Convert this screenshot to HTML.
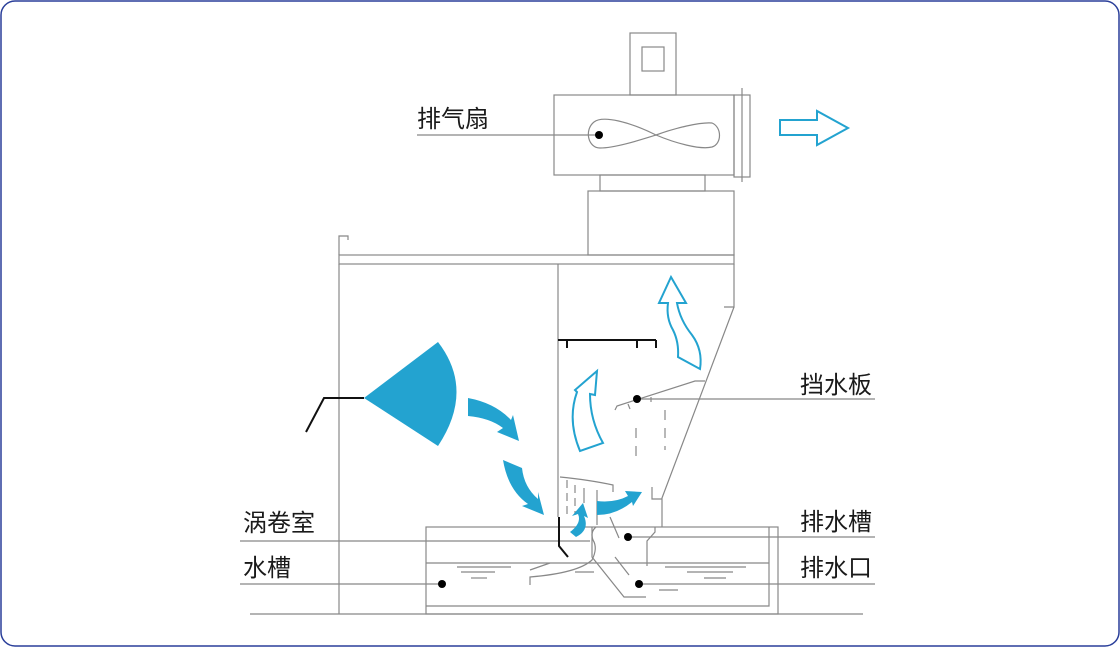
<!DOCTYPE html>
<html><head><meta charset="utf-8"><style>
html,body{margin:0;padding:0;background:#fff;}
svg{display:block;}
text{font-family:"Liberation Sans","Noto Sans CJK SC",sans-serif;font-size:24px;fill:#1a1a1a;}
</style></head><body>
<svg width="1120" height="647" viewBox="0 0 1120 647" xmlns="http://www.w3.org/2000/svg">
<rect x="1" y="1" width="1118" height="645" rx="14" ry="14" fill="#fff" stroke="#2a3f9a" stroke-width="1.5"/>
<g fill="none" stroke="#888" stroke-width="1.2">
<rect x="630" y="33" width="46" height="62"/>
<rect x="642" y="47" width="22" height="24"/>
<rect x="554" y="95" width="180" height="80"/>
<rect x="734" y="95" width="16" height="82"/>
<line x1="742" y1="88" x2="742" y2="182"/>
<path d="M656,135 C630,122 603,115 594,122 C584,130 588,148 600,148 C615,148 640,140 656,135 C675,128 700,122 712,123 C722,127 722,144 712,147 C700,150 675,143 656,135 Z"/>
<line x1="417" y1="135" x2="599" y2="135"/>
<rect x="600" y="175" width="105" height="16"/>
<rect x="588" y="191" width="146" height="64"/>
<rect x="339" y="255" width="395" height="9"/>
<path d="M339,255 V236 H348 V240"/>
<line x1="339" y1="264" x2="339" y2="614"/>
<line x1="558" y1="264" x2="558" y2="517"/>
<path d="M734,264 V307 H724"/>
<path d="M734,307 L662,498 V527"/>
<path d="M652,487 V499 H662"/>
<path d="M615,410 L617,406 L695,381 L705,381"/>
<line x1="628" y1="404" x2="630" y2="409"/>
<line x1="651" y1="397" x2="651" y2="402"/>
<line x1="636" y1="428" x2="636" y2="462" stroke-dasharray="10,8"/>
<line x1="665" y1="410" x2="665" y2="450" stroke-dasharray="10,8"/>
<line x1="637" y1="399" x2="875" y2="399"/>
<path d="M560,477 Q590,480 613,485 V492"/>
<line x1="567" y1="480" x2="567" y2="515" stroke-dasharray="8,5"/>
<line x1="575" y1="485" x2="575" y2="515" stroke-dasharray="8,5"/>
<line x1="584" y1="488" x2="584" y2="503"/>
<line x1="597" y1="490" x2="597" y2="525"/>
<line x1="610" y1="517" x2="619" y2="538"/>
<rect x="426" y="527" width="352" height="87"/>
<path d="M769,527 V606 H426"/>
<line x1="426" y1="563" x2="769" y2="563"/>
<line x1="240" y1="541" x2="590" y2="541"/>
<line x1="628" y1="537" x2="875" y2="537"/>
<line x1="240" y1="584" x2="442" y2="584"/>
<line x1="639" y1="584" x2="875" y2="584"/>
<line x1="250" y1="614" x2="863" y2="614"/>
<path d="M596,527 Q590,532 593,540 Q598,548 592,560 Q578,573 530,577 V585"/>
<line x1="530" y1="570" x2="550" y2="563"/>
<path d="M592,527 V557 L624,597 H646"/>
<path d="M655,527 V532 L647,541 V566"/>
<line x1="615" y1="557" x2="629" y2="575"/>
<line x1="457" y1="567" x2="511" y2="567"/>
<line x1="461" y1="572" x2="495" y2="572"/>
<line x1="471" y1="578" x2="487" y2="578"/>
<line x1="575" y1="572" x2="594" y2="572"/>
<line x1="665" y1="567" x2="746" y2="567"/>
<line x1="687" y1="572" x2="733" y2="572"/>
<line x1="704" y1="578" x2="726" y2="578"/>
<line x1="659" y1="590" x2="678" y2="590"/>
</g>
<g fill="none" stroke="#111" stroke-width="2">
<path d="M558,340 H656 M567,340 V348 M637,340 V348 M656,340 V348"/>
<path d="M559,517 V546 L568,557"/>
<path d="M306,432 L324,398 H364"/>
</g>
<g fill="#000">
<circle cx="599" cy="135" r="4"/>
<circle cx="637" cy="399" r="4"/>
<circle cx="628" cy="537" r="4"/>
<circle cx="442" cy="584" r="4"/>
<circle cx="639" cy="584" r="4"/>
</g>
<g fill="#23a3d0">
<path d="M364,398 L438,342 Q475,390 438,446 Z"/>
<path d="M468,398 Q495,403 511,420 L513,415 L519,441 L497,432 L503,428 Q490,418 468,416 Z"/>
<path d="M503,460 L522,468 Q524,487 538,499 L538,492 L544,515 L522,506 L528,504 Q508,490 503,460 Z"/>
<path d="M570,532 Q582,523 578,514 L572,516 L583,503 L588,518 L584,516 Q590,530 576,537 Z"/>
<path d="M597,501 Q615,503 628,496 L625,491 L642,492 L633,506 L632,502 Q616,515 597,515 Z"/>
</g>
<g fill="none" stroke="#23a3d0" stroke-width="2">
<path d="M780,120 H817 V111 L848,128 L817,145 V135 H780 Z"/>
<path d="M671,277 L686,303 L677,303 Q680,320 692,335 Q703,350 700,369 L678,357 Q679,342 673,330 Q666,318 668,303 L659,303 Z"/>
<path d="M597,371 L595,395 L590,394 Q590,420 603,443 L580,451 Q567,420 577,392 L575,390 Z"/>
</g>
<text x="417" y="127">排气扇</text>
<text x="800" y="393">挡水板</text>
<text x="243" y="531">涡卷室</text>
<text x="243" y="576">水槽</text>
<text x="800" y="530">排水槽</text>
<text x="800" y="576">排水口</text>
</svg>
</body></html>
